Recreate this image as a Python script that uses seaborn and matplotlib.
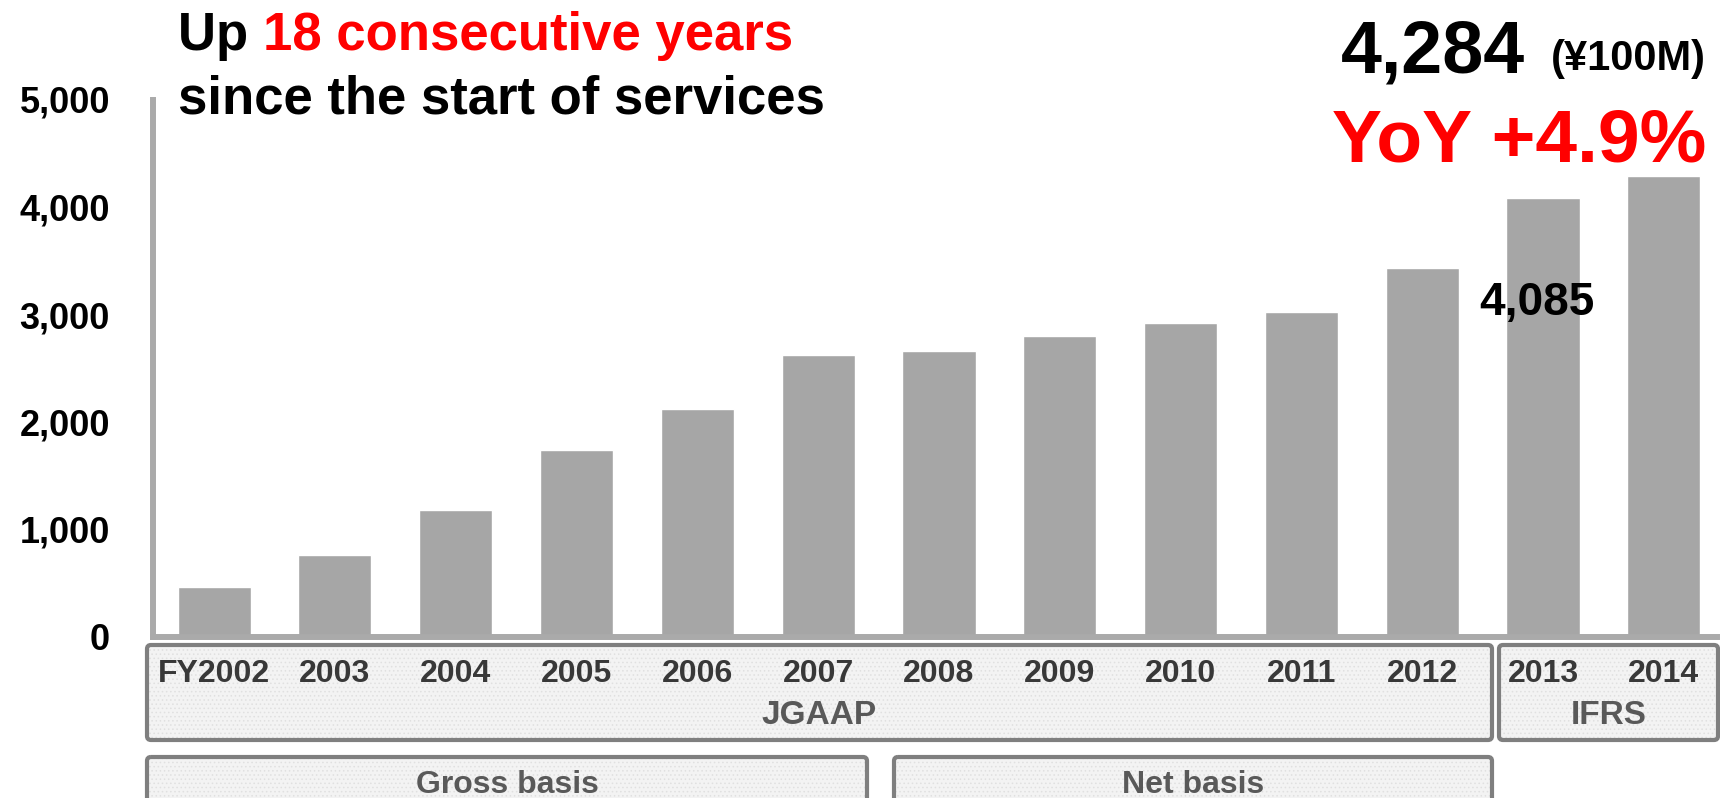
import matplotlib
matplotlib.use("Agg")
import matplotlib.pyplot as plt
import seaborn as sns
import pandas as pd
from matplotlib.patches import FancyBboxPatch

# ---- data ----
year_labels = ["FY2002", "2003", "2004", "2005", "2006", "2007", "2008",
               "2009", "2010", "2011", "2012", "2013", "2014"]
revenue = [462, 759, 1178, 1737, 2125, 2620, 2658, 2798, 2924, 3024, 3429, 4085, 4284]
y_ticks = [0, 1000, 2000, 3000, 4000, 5000]
y_tick_labels = ["0", "1,000", "2,000", "3,000", "4,000", "5,000"]
standard_groups = ["JGAAP", "IFRS"]
basis_groups = ["Gross basis", "Net basis"]
headline_value = "4,284"
headline_unit = "(¥100M)"
headline_yoy = "YoY +4.9%"
prev_value_label = "4,085"

sns.set_theme(style="white")
plt.rcParams['font.family'] = ['Liberation Sans', 'DejaVu Sans']
plt.rcParams['font.weight'] = 'bold'
plt.rcParams['hatch.linewidth'] = 0.6

W, H = 1720, 798
fig = plt.figure(figsize=(W / 100, H / 100), dpi=100)

def fx(px):
    return px / W

def fy(py):
    return 1 - py / H

# background layer for the group boxes
bg = fig.add_axes([0, 0, 1, 1], zorder=0)
bg.set_xlim(0, W)
bg.set_ylim(H, 0)
bg.axis('off')

ax = fig.add_axes([fx(153), fy(637), fx(1717) - fx(153), fy(99.5) - fy(637)], zorder=5)
ax.patch.set_alpha(0)

df = pd.DataFrame({"year": year_labels, "revenue": revenue})
sns.barplot(data=df, x="year", y="revenue", color="#A6A6A6", saturation=1,
            width=0.605, errorbar=None, ax=ax, order=year_labels)

ax.set_xlim(-0.506, 12.44)
ax.set_ylim(0, 5000)
ax.set_xlabel("")
ax.set_ylabel("")

ax.set_yticks(y_ticks)
ax.set_yticklabels(y_tick_labels, fontsize=26, fontweight='bold', color='black')
ax.tick_params(axis='y', length=0, pad=31)
ax.set_xticks(range(len(year_labels)))
ax.set_xticklabels(year_labels, fontsize=23, fontweight='bold', color='#383838')
ax.tick_params(axis='x', length=0, pad=16)

for s in ['top', 'right']:
    ax.spines[s].set_visible(False)
for s in ['left', 'bottom']:
    ax.spines[s].set_color('#AAAAAA')
    ax.spines[s].set_linewidth(4.3)
ax.grid(False)

# ---- group boxes ----
def box(x0, y0, x1, y1):
    fill = FancyBboxPatch((x0, y0), x1 - x0, y1 - y0, boxstyle="round,pad=0,rounding_size=4",
                          facecolor='#F3F3F3', edgecolor='#E0E0E0',
                          hatch='....', linewidth=0, zorder=0)
    border = FancyBboxPatch((x0, y0), x1 - x0, y1 - y0, boxstyle="round,pad=0,rounding_size=4",
                            facecolor='none', edgecolor='#7F7F7F',
                            linewidth=3.0, zorder=1)
    bg.add_patch(fill)
    bg.add_patch(border)

box(147, 645, 1492, 740)
box(1499, 645, 1718, 740)
box(147, 757, 867, 840)
box(894, 757, 1492, 840)

bg.text(819, 716, standard_groups[0], ha='center', va='center',
        fontsize=24, fontweight='bold', color='#595959')
bg.text(1609, 716, standard_groups[1], ha='center', va='center',
        fontsize=24, fontweight='bold', color='#595959')
bg.text(507, 793, basis_groups[0], ha='center', va='baseline',
        fontsize=23, fontweight='bold', color='#595959')
bg.text(1193, 793, basis_groups[1], ha='center', va='baseline',
        fontsize=23, fontweight='bold', color='#595959')

# ---- title ----
t1 = fig.text(fx(178), fy(50), "Up ", ha='left', va='baseline', fontsize=38,
              fontweight='bold', color='black')
fig.canvas.draw()
bb = t1.get_window_extent(renderer=fig.canvas.get_renderer())
fig.text(bb.x1 / W, fy(50), "18 consecutive years", ha='left', va='baseline',
         fontsize=38, fontweight='bold', color='#FF0000')
fig.text(fx(178), fy(113), "since the start of services", ha='left', va='baseline',
         fontsize=38, fontweight='bold', color='black')

# ---- headline ----
fig.text(fx(1525), fy(72), headline_value, ha='right', va='baseline', fontsize=53,
         fontweight='bold', color='black')
fig.text(fx(1706), fy(70), headline_unit, ha='right', va='baseline', fontsize=30,
         fontweight='bold', color='black')
fig.text(fx(1706), fy(162), headline_yoy, ha='right', va='baseline', fontsize=54,
         fontweight='bold', color='#FF0000')

ax.text(10.95, 2995, prev_value_label, ha='center', va='baseline', fontsize=33,
        fontweight='bold', color='black')

fig.savefig("out.png", dpi=100)
